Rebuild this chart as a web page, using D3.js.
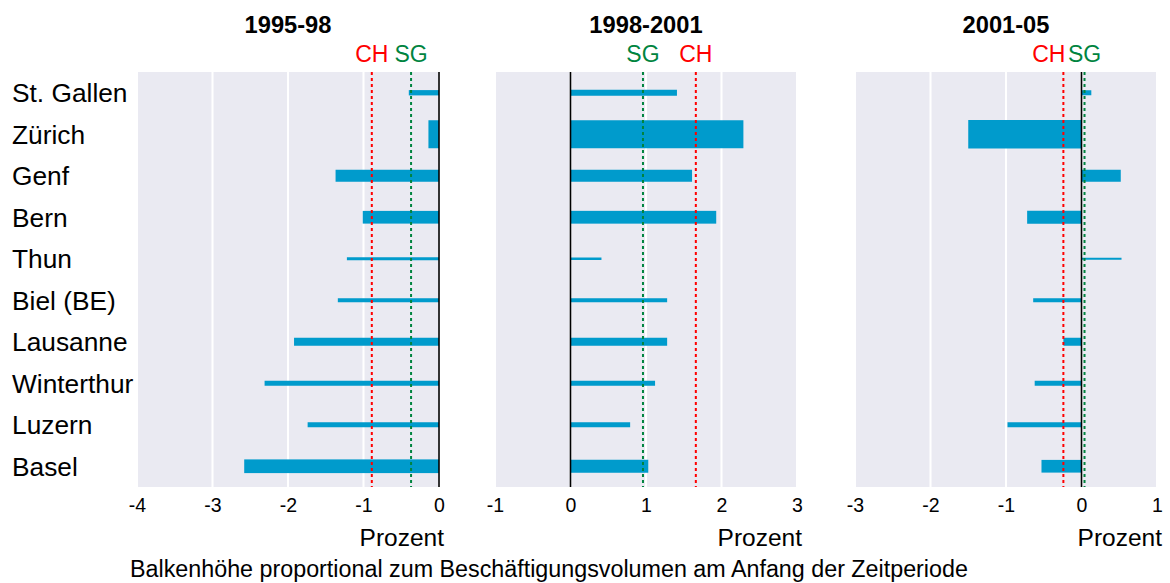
<!DOCTYPE html>
<html><head><meta charset="utf-8">
<script src="https://cdn.jsdelivr.net/npm/d3@7"></script>
<style>body{margin:0;background:#fff}svg{display:block}text{font-family:"Liberation Sans",Arial,sans-serif}</style>
</head><body><svg id="c" width="1170" height="583"></svg>
<script>
const cities = ["St. Gallen","Zürich","Genf","Bern","Thun","Biel (BE)","Lausanne","Winterthur","Luzern","Basel"];
const periods = ["1995-98","1998-2001","2001-05"];
// growth of employment, percent per year
const growth1995 = [-0.40,-0.14,-1.37,-1.01,-1.22,-1.34,-1.92,-2.31,-1.74,-2.58];
const growth1998 = [1.41,2.29,1.61,1.93,0.41,1.28,1.28,1.12,0.79,1.03];
const growth2001 = [0.13,-1.50,0.52,-0.72,0.53,-0.64,-0.24,-0.62,-0.98,-0.53];
// employment volume at start of period (thousand FTE)
const volume1995 = [53,280,120,127,30,40,80,50,50,137];
const volume1998 = [60,280,120,128,25,40,80,50,50,130];
const volume2001 = [50,285,120,130,20,40,80,50,50,127];
const chValues = [-0.89,1.66,-0.24];
const sgValues = [-0.37,0.96,0.04];
const domains = [[-4,0],[-1,3],[-3,1]];
const tickValues = [[-4,-3,-2,-1,0],[-1,0,1,2,3],[-3,-2,-1,0,1]];
const axisTitle = "Prozent";
const caption = "Balkenhöhe proportional zum Beschäftigungsvolumen am Anfang der Zeitperiode";

const growth = [growth1995,growth1998,growth2001];
const volume = [volume1995,volume1998,volume2001];
const panelX = [137,495,855], panelW = 302;
const plotTop = 72, plotBottom = 487;
const chAnchor = ["middle","middle","end"];

const svg = d3.select("#c");
const y = d3.scaleBand().domain(cities).range([plotTop,plotBottom]).padding(0);
const h = d3.scaleLinear().domain([0,100]).range([0,10]);

svg.selectAll("text.city").data(cities).join("text")
  .attr("class","city").attr("x",12).attr("y",d=>y(d)+y.bandwidth()/2)
  .attr("dy","0.36em").attr("font-size",26.3).attr("fill","#000").text(d=>d);

periods.forEach((p,i)=>{
  const x = d3.scaleLinear().domain(domains[i]).range([panelX[i],panelX[i]+panelW]);
  const g = svg.append("g");
  g.append("rect").attr("x",panelX[i]).attr("y",plotTop).attr("width",panelW).attr("height",plotBottom-plotTop).attr("fill","#eaeaf2");
  g.selectAll("line.grid").data(tickValues[i]).join("line").attr("class","grid")
    .attr("x1",d=>x(d)).attr("x2",d=>x(d)).attr("y1",plotTop).attr("y2",plotBottom)
    .attr("stroke","#fff").attr("stroke-width",2);
  const ax = d3.axisBottom(x).tickValues(tickValues[i]).tickSize(0).tickPadding(0).tickFormat(d=>String(d));
  const axg = g.append("g").attr("transform",`translate(0,${plotBottom})`).call(ax);
  axg.select(".domain").remove();
  axg.selectAll("text").attr("font-size",19.5).attr("fill","#000").attr("dy",null).attr("y",25)
    .style("font-family","'Liberation Sans',Arial,sans-serif");
  g.selectAll("rect.bar").data(cities).join("rect").attr("class","bar")
    .attr("x",(d,j)=>Math.min(x(0),x(growth[i][j])))
    .attr("width",(d,j)=>Math.abs(x(growth[i][j])-x(0)))
    .attr("y",(d,j)=>y(d)+y.bandwidth()/2-h(volume[i][j])/2)
    .attr("height",(d,j)=>h(volume[i][j]))
    .attr("fill","#009bcc");
  g.append("line").attr("x1",x(0)).attr("x2",x(0)).attr("y1",plotTop).attr("y2",plotBottom)
    .attr("stroke","#000").attr("stroke-width",1.6);
  g.append("line").attr("x1",x(chValues[i])).attr("x2",x(chValues[i])).attr("y1",plotTop).attr("y2",plotBottom)
    .attr("stroke","#ff0000").attr("stroke-width",2).attr("stroke-dasharray","3,3");
  g.append("line").attr("x1",x(sgValues[i])).attr("x2",x(sgValues[i])).attr("y1",plotTop).attr("y2",plotBottom)
    .attr("stroke","#00843f").attr("stroke-width",2).attr("stroke-dasharray","3,3");
  g.append("text").attr("x",x(chValues[i])+(chAnchor[i]==="end"?2:0)).attr("y",62).attr("text-anchor",chAnchor[i])
    .attr("font-size",23).attr("fill","#ff0000").text("CH");
  g.append("text").attr("x",x(sgValues[i])).attr("y",62).attr("text-anchor","middle")
    .attr("font-size",23).attr("fill","#00843f").text("SG");
  g.append("text").attr("x",panelX[i]+panelW/2).attr("y",33).attr("text-anchor","middle")
    .attr("font-size",23.7).attr("font-weight","bold").attr("fill","#000").text(p);
  g.append("text").attr("x",panelX[i]+panelW+5).attr("y",546).attr("text-anchor","end")
    .attr("font-size",24.5).attr("fill","#000").text(axisTitle);
});
svg.append("text").attr("x",130).attr("y",577).attr("font-size",23.3).attr("fill","#000").text(caption);
</script></body></html>
